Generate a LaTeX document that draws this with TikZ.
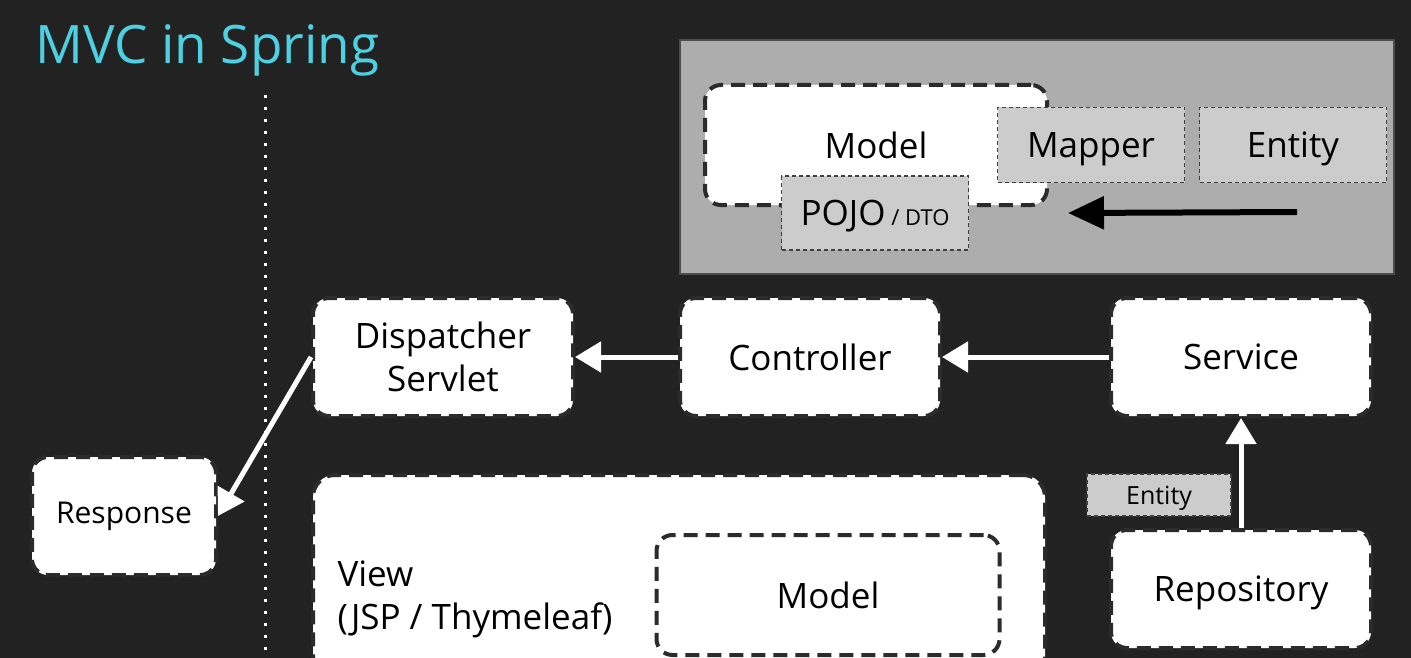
\documentclass[tikz,border=0pt]{standalone}
\usepackage{fontspec}
\setmainfont{Open Sans}
\usetikzlibrary{positioning,arrows.meta}
\definecolor{bg}{HTML}{222222}
\definecolor{titlecol}{HTML}{4DD0E1}
\definecolor{panel}{HTML}{ADADAD}
\definecolor{tagfill}{HTML}{CCCCCC}
\definecolor{edge}{HTML}{2B2B2B}
\begin{document}
\begin{tikzpicture}[x=1pt, y=-1pt, font=\fontsize{35}{43}\selectfont,
  box/.style={draw=edge, fill=white, line width=4pt, dash pattern=on 14pt off 8pt,
    rounded corners=16pt, minimum width=260pt, minimum height=118pt, inner sep=0pt, align=center},
  tag/.style={draw=black!75, fill=tagfill, line width=1.3pt, dash pattern=on 4pt off 3pt,
    minimum width=187pt, minimum height=75pt, inner sep=0pt, text depth=0pt},
  wl/.style={draw=white, line width=5pt, -{Triangle[length=26pt,width=30pt]}}]
\useasboundingbox (0,0) rectangle (1411,658);
\fill[bg] (0,0) rectangle (1411,658);
\clip (0,0) rectangle (1411,658);
\node(T) [anchor=base west, text=titlecol, font=\fontsize{53}{60}\selectfont, inner sep=0pt] at (35,64) {MVC in Spring};
\draw[white, line width=3pt, dash pattern=on 3pt off 9pt] (265,95) -- (265,658);
% model panel
\node(P) [draw=black!70, fill=panel, line width=2pt, minimum width=714pt, minimum height=234pt] at (1037,157) {};
\node(M) [box, minimum width=342pt, minimum height=120pt] at (876,145) {Model};
\node(Mp) [tag] at (1091,145) {Mapper};
\node(E) [tag] at (1293,145) {Entity};
\node(Pj) [tag, minimum height=74pt] at (875,213) {POJO\,{\fontsize{22}{26}\selectfont / DTO}};
\coordinate(a1) at (1297,212);
\coordinate(a2) at (1068,213);
\draw[black, line width=6pt, -{Triangle[length=36pt,width=32pt]}] (a1) -- (a2);
% request chain
\node(D) [box] at (443,357) {Dispatcher\\Servlet};
\node(C) [box, right=103pt of D] {Controller};
\node(S) [box, right=167pt of C] {Service};
\node(R) [box, below=110pt of S, text depth=0pt] {Repository};
\node(Rs) [box, minimum width=184pt, font=\fontsize{30}{36}\selectfont] at (124,516) {Response};
\node(V) [box, minimum width=732pt, minimum height=260pt, rounded corners=22pt] at (679,605) {};
\node(Vt) [anchor=west, align=left] at (334,599) {View\\(JSP / Thymeleaf)};
\node(Vm) [box, minimum width=343pt, minimum height=120pt] at (828,595) {Model};
\node(Et) [tag, minimum width=144pt, minimum height=42pt, font=\fontsize{25}{30}\selectfont] at (1159,495) {Entity};
\draw[wl](C) to (D);
\draw[wl](S) to (C);
\draw[wl](R) to (S);
\draw[wl](D.west) to (Rs.east);
\end{tikzpicture}
\end{document}
